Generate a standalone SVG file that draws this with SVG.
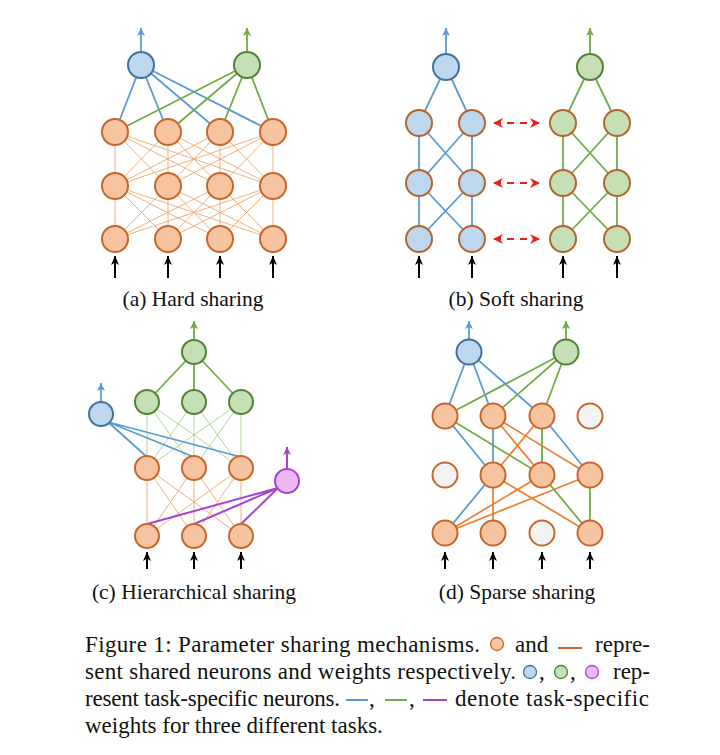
<svg xmlns="http://www.w3.org/2000/svg" width="720" height="755" viewBox="0 0 720 755">
<style>
.o{fill:#F7C4A2;stroke:#C8662B;stroke-width:2}
.e{fill:#F3F3F3;stroke:#C8662B;stroke-width:2}
.b{fill:#BDD7EE;stroke:#41719C;stroke-width:2}
.g{fill:#C5E0B4;stroke:#538135;stroke-width:2}
.bo{fill:#BDD7EE;stroke:#B5652E;stroke-width:2}
.go{fill:#C5E0B4;stroke:#B5652E;stroke-width:2}
.p{fill:#EDB9F2;stroke:#A544D0;stroke-width:2}
.lb{stroke:#5B9BD5;stroke-width:1.8;fill:none}
.lg{stroke:#70AD47;stroke-width:1.8;fill:none}
.lp{stroke:#A544D0;stroke-width:2;fill:none}
.lo{stroke:#ED7D31;stroke-width:1.7;fill:none}
.to{stroke:#F0A673;stroke-width:0.9;fill:none}
.tg{stroke:#A9D18E;stroke-width:0.9;fill:none}
.in{stroke:#000;stroke-width:2;fill:none}
.rd{stroke:#E8211D;stroke-width:2.2;stroke-dasharray:7,6;fill:none}
.cap{font-family:"Liberation Serif","Times New Roman",serif;font-size:21.5px;fill:#111}
.fc{font-family:"Liberation Serif","Times New Roman",serif;font-size:23px;fill:#111}
</style>
<defs>
<marker id="ab" markerUnits="userSpaceOnUse" markerWidth="10" markerHeight="10" refX="8" refY="4" orient="auto"><path d="M0,0 L8,4 L0,8 L2,4 z" fill="#5B9BD5"/></marker>
<marker id="ag" markerUnits="userSpaceOnUse" markerWidth="10" markerHeight="10" refX="8" refY="4" orient="auto"><path d="M0,0 L8,4 L0,8 L2,4 z" fill="#70AD47"/></marker>
<marker id="ap" markerUnits="userSpaceOnUse" markerWidth="10" markerHeight="10" refX="8" refY="4" orient="auto"><path d="M0,0 L8,4 L0,8 L2,4 z" fill="#A544D0"/></marker>
<marker id="ak" markerUnits="userSpaceOnUse" markerWidth="11" markerHeight="10" refX="9" refY="4" orient="auto"><path d="M0,0 L9,4 L0,8 L2.5,4 z" fill="#000"/></marker>
<marker id="ar" markerUnits="userSpaceOnUse" markerWidth="12" markerHeight="12" refX="9" refY="5" orient="auto-start-reverse"><path d="M0,0 L10,5 L0,10 L3,5 z" fill="#E8211D"/></marker>
</defs>
<rect width="720" height="755" fill="#fff"/>

<g id="connectors">
<!-- panel a -->
<g>
<line class="lb" x1="141" y1="51" x2="141" y2="28" marker-end="url(#ab)"/>
<line class="lg" x1="247" y1="51" x2="247" y2="28" marker-end="url(#ag)"/>
<path class="to" d="M115,132L115,186M115,132L168,186M115,132L220,186M115,132L273,186M168,132L115,186M168,132L168,186M168,132L220,186M168,132L273,186M220,132L115,186M220,132L168,186M220,132L220,186M220,132L273,186M273,132L115,186M273,132L168,186M273,132L220,186M273,132L273,186"/>
<path class="to" d="M115,186L115,239M115,186L168,239M115,186L220,239M115,186L273,239M168,186L115,239M168,186L168,239M168,186L220,239M168,186L273,239M220,186L115,239M220,186L168,239M220,186L220,239M220,186L273,239M273,186L115,239M273,186L168,239M273,186L220,239M273,186L273,239"/>
<path class="lb" d="M141,65L115,132M141,65L168,132M141,65L220,132M141,65L273,132"/>
<path class="lg" d="M247,65L115,132M247,65L168,132M247,65L220,132M247,65L273,132"/>
<line class="in" x1="115" y1="278" x2="115" y2="256" marker-end="url(#ak)"/>
<line class="in" x1="168" y1="278" x2="168" y2="256" marker-end="url(#ak)"/>
<line class="in" x1="220" y1="278" x2="220" y2="256" marker-end="url(#ak)"/>
<line class="in" x1="273" y1="278" x2="273" y2="256" marker-end="url(#ak)"/>
</g>
<!-- panel b -->
<g>
<line class="lb" x1="446" y1="53" x2="446" y2="28" marker-end="url(#ab)"/>
<line class="lg" x1="590" y1="53" x2="590" y2="28" marker-end="url(#ag)"/>
<path class="lb" d="M446,67L419,123M446,67L472,123M419,123L419,183M472,123L472,183M419,123L472,183M472,123L419,183M419,183L419,239M472,183L472,239M419,183L472,239M472,183L419,239"/>
<path class="lg" d="M590,67L563,123M590,67L617,123M563,123L563,183M617,123L617,183M563,123L617,183M617,123L563,183M563,183L563,239M617,183L617,239M563,183L617,239M617,183L563,239"/>
<line class="rd" x1="494" y1="123" x2="539" y2="123" marker-start="url(#ar)" marker-end="url(#ar)"/>
<line class="rd" x1="494" y1="183" x2="539" y2="183" marker-start="url(#ar)" marker-end="url(#ar)"/>
<line class="rd" x1="494" y1="239" x2="539" y2="239" marker-start="url(#ar)" marker-end="url(#ar)"/>
<line class="in" x1="419" y1="278" x2="419" y2="256" marker-end="url(#ak)"/>
<line class="in" x1="472" y1="278" x2="472" y2="256" marker-end="url(#ak)"/>
<line class="in" x1="563" y1="278" x2="563" y2="256" marker-end="url(#ak)"/>
<line class="in" x1="617" y1="278" x2="617" y2="256" marker-end="url(#ak)"/>
</g>
<!-- panel c -->
<g>
<line class="lg" x1="194" y1="339" x2="194" y2="321" marker-end="url(#ag)"/>
<line class="lb" x1="101" y1="401" x2="101" y2="383" marker-end="url(#ab)"/>
<line class="lp" x1="287" y1="468" x2="287" y2="447" marker-end="url(#ap)"/>
<path class="tg" d="M147,402L147,468M147,402L194,468M147,402L241,468M194,402L147,468M194,402L194,468M194,402L241,468M241,402L147,468M241,402L194,468M241,402L241,468"/>
<path class="to" d="M147,468L147,536M147,468L194,536M147,468L241,536M194,468L147,536M194,468L194,536M194,468L241,536M241,468L147,536M241,468L194,536M241,468L241,536"/>
<path class="lg" d="M194,352L147,402M194,352L194,402M194,352L241,402"/>
<path class="lb" d="M108,422L147,457M108,422L194,457M108,422L241,457"/>
<path class="lp" d="M278,488L147,524M278,488L194,524M278,488L241,524"/>
<line class="in" x1="147" y1="569" x2="147" y2="552" marker-end="url(#ak)"/>
<line class="in" x1="194" y1="569" x2="194" y2="552" marker-end="url(#ak)"/>
<line class="in" x1="241" y1="569" x2="241" y2="552" marker-end="url(#ak)"/>
</g>
<!-- panel d -->
<g>
<line class="lb" x1="469" y1="339" x2="469" y2="321" marker-end="url(#ab)"/>
<line class="lg" x1="566" y1="339" x2="566" y2="321" marker-end="url(#ag)"/>
<path class="lb" d="M469,352L445,416M469,352L493,416M469,352L542,416"/>
<path class="lg" d="M566,352L445,416M566,352L493,416M566,352L542,416"/>
<path class="lb" d="M445,416L493,475M493,416L493,475M542,416L590,475"/>
<path class="lg" d="M445,416L542,475M542,416L542,475"/>
<path class="lo" d="M493,416L542,475M493,416L590,475M542,416L493,475"/>
<path class="lb" d="M493,475L445,533"/>
<path class="lo" d="M493,475L493,533M493,475L590,533M542,475L445,533M590,475L445,533"/>
<path class="lg" d="M542,475L590,533M590,475L590,533"/>
<line class="in" x1="445" y1="569" x2="445" y2="552" marker-end="url(#ak)"/>
<line class="in" x1="493" y1="569" x2="493" y2="552" marker-end="url(#ak)"/>
<line class="in" x1="542" y1="569" x2="542" y2="552" marker-end="url(#ak)"/>
<line class="in" x1="590" y1="569" x2="590" y2="552" marker-end="url(#ak)"/>
</g>
</g>

<g id="nodes-a">
<g id="a-blue"><circle class="b" cx="141" cy="65" r="13"/></g>
<g id="a-green"><circle class="g" cx="247" cy="65" r="13"/></g>
<g id="a-l1"><circle class="o" cx="115" cy="132" r="13"/><circle class="o" cx="168" cy="132" r="13"/><circle class="o" cx="220" cy="132" r="13"/><circle class="o" cx="273" cy="132" r="13"/></g>
<g id="a-l2"><circle class="o" cx="115" cy="186" r="13"/><circle class="o" cx="168" cy="186" r="13"/><circle class="o" cx="220" cy="186" r="13"/><circle class="o" cx="273" cy="186" r="13"/></g>
<g id="a-l3"><circle class="o" cx="115" cy="239" r="13"/><circle class="o" cx="168" cy="239" r="13"/><circle class="o" cx="220" cy="239" r="13"/><circle class="o" cx="273" cy="239" r="13"/></g>
</g>
<g id="nodes-b">
<g id="b-blue"><circle class="b" cx="446" cy="67" r="13"/></g>
<g id="b-green"><circle class="g" cx="590" cy="67" r="13"/></g>
<g id="b-l1"><circle class="bo" cx="419" cy="123" r="13"/><circle class="bo" cx="472" cy="123" r="13"/><circle class="go" cx="563" cy="123" r="13"/><circle class="go" cx="617" cy="123" r="13"/></g>
<g id="b-l2"><circle class="bo" cx="419" cy="183" r="13"/><circle class="bo" cx="472" cy="183" r="13"/><circle class="go" cx="563" cy="183" r="13"/><circle class="go" cx="617" cy="183" r="13"/></g>
<g id="b-l3"><circle class="bo" cx="419" cy="239" r="13"/><circle class="bo" cx="472" cy="239" r="13"/><circle class="go" cx="563" cy="239" r="13"/><circle class="go" cx="617" cy="239" r="13"/></g>
</g>
<g id="nodes-c">
<g id="c-green-top"><circle class="g" cx="194" cy="352" r="12"/></g>
<g id="c-green-layer"><circle class="g" cx="147" cy="402" r="12"/><circle class="g" cx="194" cy="402" r="12"/><circle class="g" cx="241" cy="402" r="12"/></g>
<g id="c-blue"><circle class="b" cx="101" cy="414" r="12"/></g>
<g id="c-purple"><circle class="p" cx="287" cy="481" r="12"/></g>
<g id="c-l2"><circle class="o" cx="147" cy="468" r="12"/><circle class="o" cx="194" cy="468" r="12"/><circle class="o" cx="241" cy="468" r="12"/></g>
<g id="c-l3"><circle class="o" cx="147" cy="536" r="12"/><circle class="o" cx="194" cy="536" r="12"/><circle class="o" cx="241" cy="536" r="12"/></g>
</g>
<g id="nodes-d">
<g id="d-blue"><circle class="b" cx="469" cy="352" r="12.5"/></g>
<g id="d-green"><circle class="g" cx="566" cy="352" r="12.5"/></g>
<g id="d-l1"><circle class="o" cx="445" cy="416" r="12.5"/><circle class="o" cx="493" cy="416" r="12.5"/><circle class="o" cx="542" cy="416" r="12.5"/><circle class="e" cx="590" cy="416" r="12.5"/></g>
<g id="d-l2"><circle class="e" cx="445" cy="475" r="12.5"/><circle class="o" cx="493" cy="475" r="12.5"/><circle class="o" cx="542" cy="475" r="12.5"/><circle class="o" cx="590" cy="475" r="12.5"/></g>
<g id="d-l3"><circle class="o" cx="445" cy="533" r="12.5"/><circle class="o" cx="493" cy="533" r="12.5"/><circle class="e" cx="542" cy="533" r="12.5"/><circle class="o" cx="590" cy="533" r="12.5"/></g>
</g>

<g id="subcaptions">
<text class="cap" x="193" y="306" text-anchor="middle">(a) Hard sharing</text>
<text class="cap" x="516" y="306" text-anchor="middle">(b) Soft sharing</text>
<text class="cap" x="194" y="599" text-anchor="middle">(c) Hierarchical sharing</text>
<text class="cap" x="517" y="599" text-anchor="middle">(d) Sparse sharing</text>
</g>

<g id="caption">
<text class="fc" x="85" y="652" textLength="395" lengthAdjust="spacing">Figure 1: Parameter sharing mechanisms.</text>
<circle cx="497" cy="644" r="6.5" fill="#F7C4A2" stroke="#C8662B" stroke-width="1.3"/>
<text class="fc" x="515" y="652">and</text>
<line x1="558" y1="648" x2="582" y2="648" stroke="#C8662B" stroke-width="2"/>
<text class="fc" x="650" y="652" text-anchor="end">repre-</text>
<text class="fc" x="85" y="679" textLength="431" lengthAdjust="spacing">sent shared neurons and weights respectively.</text>
<circle cx="530" cy="672" r="6.5" fill="#BDD7EE" stroke="#41719C" stroke-width="1.3"/>
<text class="fc" x="539" y="679">,</text>
<circle cx="561" cy="672" r="6.5" fill="#C5E0B4" stroke="#538135" stroke-width="1.3"/>
<text class="fc" x="570" y="679">,</text>
<circle cx="592" cy="672" r="6.5" fill="#EDB9F2" stroke="#A544D0" stroke-width="1.3"/>
<text class="fc" x="650" y="679" text-anchor="end">rep-</text>
<text class="fc" x="85" y="706" textLength="255" lengthAdjust="spacing">resent task-specific neurons.</text>
<line x1="346" y1="700" x2="368" y2="700" stroke="#5B9BD5" stroke-width="2"/>
<text class="fc" x="369" y="706">,</text>
<line x1="385" y1="700" x2="407" y2="700" stroke="#70AD47" stroke-width="2"/>
<text class="fc" x="409" y="706">,</text>
<line x1="423" y1="700" x2="447" y2="700" stroke="#A544D0" stroke-width="2"/>
<text class="fc" x="455" y="706" textLength="194" lengthAdjust="spacing">denote task-specific</text>
<text class="fc" x="85" y="733">weights for three different tasks.</text>
</g>
</svg>
